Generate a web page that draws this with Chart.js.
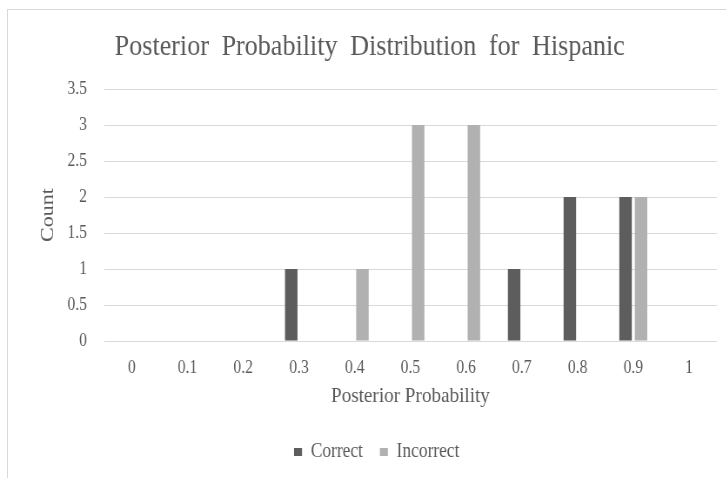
<!DOCTYPE html>
<html>
<head>
<meta charset="utf-8">
<script src="https://cdn.jsdelivr.net/npm/chart.js@4/dist/chart.umd.min.js"></script>
<style>
  html, body { margin: 0; padding: 0; background: #ffffff; overflow: hidden; width: 726px; height: 478px; }
  #frame { position: absolute; left: 7px; top: 9px; width: 760px; height: 520px; border: 1px solid #d9d9d9; box-sizing: border-box; }
  /* the chart is drawn in a narrow serif style: render wide, then condense horizontally */
  #plot { position: absolute; left: 20px; top: 0; transform: scaleX(0.87); transform-origin: 0 0; }
</style>
</head>
<body>
<div id="frame"></div>
<canvas id="plot" width="801" height="478"></canvas>
<script>
// Histogram bins (posterior probability) and counts per outcome
const categories = ['0', '0.1', '0.2', '0.3', '0.4', '0.5', '0.6', '0.7', '0.8', '0.9', '1'];
const correctCounts = [0, 0, 0, 1, 0, 0, 0, 1, 2, 2, 0];
const incorrectCounts = [0, 0, 0, 0, 1, 3, 3, 0, 0, 2, 0];
const seriesNames = ['Correct', 'Incorrect'];
const titleText = 'Posterior Probability Distribution for Hispanic';
const xAxisTitle = 'Posterior Probability';
const yAxisTitle = 'Count';

const SERIF = '"Liberation Serif", "Times New Roman", serif';
const TEXT = '#595959';
const GRID = '#d9d9d9';

// Chart title drawn with wider word gaps
const chartTitle = {
  id: 'chartTitle',
  afterDraw(chart) {
    const ctx = chart.ctx;
    ctx.save();
    ctx.font = '30px ' + SERIF;
    ctx.fillStyle = TEXT;
    ctx.textAlign = 'center';
    ctx.textBaseline = 'alphabetic';
    if ('wordSpacing' in ctx) ctx.wordSpacing = '7px';
    ctx.fillText(titleText, 402, 55);
    ctx.restore();
  }
};

new Chart(document.getElementById('plot'), {
  type: 'bar',
  data: {
    labels: categories,
    datasets: [
      {
        label: seriesNames[0],
        data: correctCounts,
        backgroundColor: '#5d5d5d',
        borderWidth: 0,
        categoryPercentage: 0.556,
        barPercentage: 0.807
      },
      {
        label: seriesNames[1],
        data: incorrectCounts,
        backgroundColor: '#b1b1b1',
        borderWidth: 0,
        categoryPercentage: 0.556,
        barPercentage: 0.807
      }
    ]
  },
  options: {
    responsive: false,
    animation: false,
    layout: { padding: { top: 89, left: 19, right: 0, bottom: 6 } },
    scales: {
      x: {
        ticks: { padding: 16, color: TEXT, font: { family: SERIF, size: 18 } },
        grid: { display: false, drawTicks: false },
        border: { display: false },
        title: {
          display: true, text: xAxisTitle, color: TEXT,
          font: { family: SERIF, size: 22 },
          padding: { top: 0, bottom: 13 }
        },
        afterFit(scale) { scale.height = 81.5; }
      },
      y: {
        min: 0,
        max: 3.5,
        ticks: {
          stepSize: 0.5,
          padding: 19.5,
          color: TEXT,
          font: { family: SERIF, size: 18 },
          callback: (value) => String(value)
        },
        grid: { color: GRID, lineWidth: 1, drawTicks: false },
        border: { display: false },
        title: {
          display: true, text: yAxisTitle, color: TEXT,
          font: { family: SERIF, size: 22 },
          padding: 0
        },
        afterFit(scale) { scale.width = 77.5; }
      }
    },
    plugins: {
      legend: {
        position: 'bottom',
        labels: {
          boxWidth: 9.2,
          boxHeight: 8,
          padding: 19.5,
          color: TEXT,
          font: { family: SERIF, size: 20 }
        }
      },
      tooltip: { enabled: false },
      title: { display: false }
    }
  },
  plugins: [chartTitle]
});
</script>
</body>
</html>
